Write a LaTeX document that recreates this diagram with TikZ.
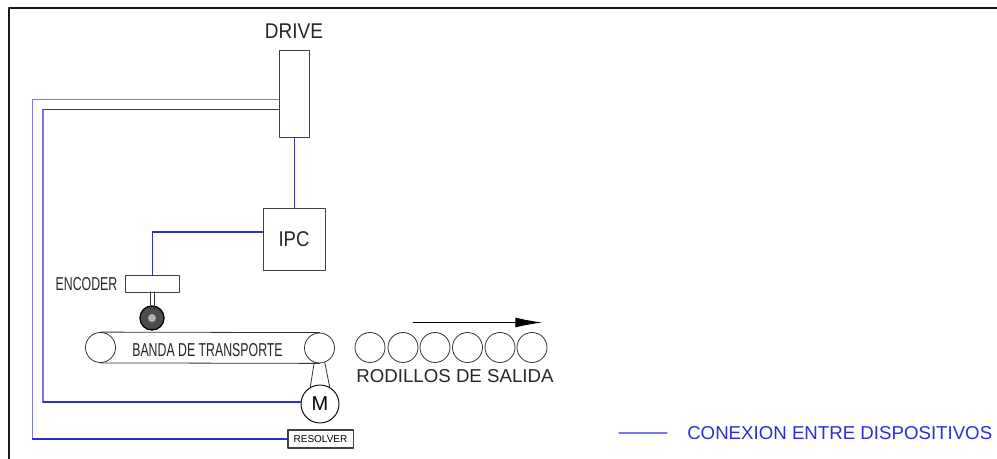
\documentclass[tikz,border=0pt]{standalone}
\usepackage{fontspec}
\setmainfont{Liberation Sans}
\usetikzlibrary{arrows.meta,positioning}
\definecolor{linkblue}{RGB}{45,45,200}
\definecolor{linklight}{RGB}{120,120,235}
\definecolor{legendblue}{RGB}{45,45,215}
\tikzset{
  devbox/.style={draw=black!75,fill=white,inner sep=0pt,line width=0.7pt},
  roller/.style={circle,draw=black!80,fill=white,minimum size=22.5pt,inner sep=0pt,line width=0.6pt},
  link/.style={draw=linkblue,line width=1.1pt},
  lightlink/.style={draw=linklight,line width=0.9pt},
  tag/.style={inner sep=0pt,text=black!85},
  every picture/.style={line cap=round,line join=round}
}
\begin{document}
\begin{tikzpicture}[x=0.75pt,y=-0.75pt]
  \useasboundingbox (0,0) rectangle (997,459);
  \draw[line width=1.5pt,black!90] (997,8.5) -- (8.5,8.5) -- (8.5,459);
  % devices
  \node[tag,font=\fontsize{16}{16}\selectfont,xscale=0.89] (drivelabel) at (294,31.5) {DRIVE};
  \node[devbox,minimum width=23pt,minimum height=65pt] (drive) at (294.5,94) {};
  \node[devbox,minimum width=46.5pt,minimum height=46.5pt] (ipc) at (294,239) {};
  \node[tag,font=\fontsize{16}{16}\selectfont,xscale=0.87] (ipclabel) at (ipc) {IPC};
  \node[devbox,minimum width=40pt,minimum height=12.75pt] (encoder) at (152.5,283.5) {};
  \node[tag,font=\fontsize{14}{14}\selectfont,xscale=0.66] (encoderlabel) at (86.5,284) {ENCODER};
  \node[circle,draw=black,fill=black!70,minimum size=18pt,inner sep=0pt,line width=1pt] (wheel) at (152,318) {};
  \node[circle,fill=black!30,minimum size=6pt,inner sep=0pt] (hub) at (wheel) {};
  % belt
  \node[roller] (bandaleft) at (100.5,347.5) {};
  \node[roller] (bandaright) at (319.5,348) {};
  \draw[black!80,line width=0.6pt] (bandaleft.north) -- (bandaright.north) (bandaleft.south) -- (bandaright.south);
  \node[tag,font=\fontsize{14}{14}\selectfont,xscale=0.66] (bandalabel) at (207.5,350) {BANDA DE TRANSPORTE};
  \node[circle,draw=black,fill=white,minimum size=28.5pt,inner sep=0pt,line width=0.7pt,font=\fontsize{15}{15}\selectfont] (motor) at (320,404) {M};
  \node[devbox,line width=1pt,minimum width=49pt,minimum height=13.5pt,font=\fontsize{7.5}{7.5}\selectfont] (resolver) at (320.5,439) {RESOLVER};
  \draw[black!80,line width=0.6pt] (bandaright.250) -- (motor.120) (bandaright.290) -- (motor.60);
  \draw[black!80,line width=1pt] (150.5,292) -- (150.5,309) (154.5,292) -- (154.5,309);
  % rollers
  \node[roller] (rod1) at (370,347.5) {};
  \node[roller] (rod2) at (403,347.5) {};
  \node[roller] (rod3) at (435,347.5) {};
  \node[roller] (rod4) at (467.5,347.5) {};
  \node[roller] (rod5) at (500,347.5) {};
  \node[roller] (rod6) at (532,347.5) {};
  \node[tag,font=\fontsize{14}{14}\selectfont] (rodlabel) at (455,376) {RODILLOS DE SALIDA};
  \coordinate (flowstart) at (413,322.5);
  \coordinate (flowend) at (542,322.5);
  \draw[-{Latex[length=20pt,width=7.5pt]},black,line width=0.7pt] (flowstart) -- (flowend);
  % connections
  \coordinate (outertop) at (32.5,99.5);
  \coordinate (outerlow) at (32.5,439);
  \coordinate (innertop) at (43,109.5);
  \coordinate (innerlow) at (43,402);
  \draw[link] (drive.south) -- (ipc.north -| drive.south);
  \draw[link] (ipc.west |- 0,232) -| (encoder.north);
  \draw[lightlink] (drive.west |- outertop) -- (outertop) -- (outerlow);
  \draw[lightlink] (innertop) -- (innerlow);
  \draw[link] (drive.west |- innertop) -- (innertop);
  \draw[link] (innerlow) -- (motor.west |- innerlow);
  \draw[link] (outerlow) -- (resolver.west);
  % legend
  \coordinate (legstart) at (619,433);
  \coordinate (legend) at (667,433);
  \draw[lightlink] (legstart) -- (legend);
  \node[tag,text=legendblue,anchor=west,font=\fontsize{14}{14}\selectfont] (leglabel) at (687,433.5) {CONEXION ENTRE DISPOSITIVOS};
\end{tikzpicture}
\end{document}
